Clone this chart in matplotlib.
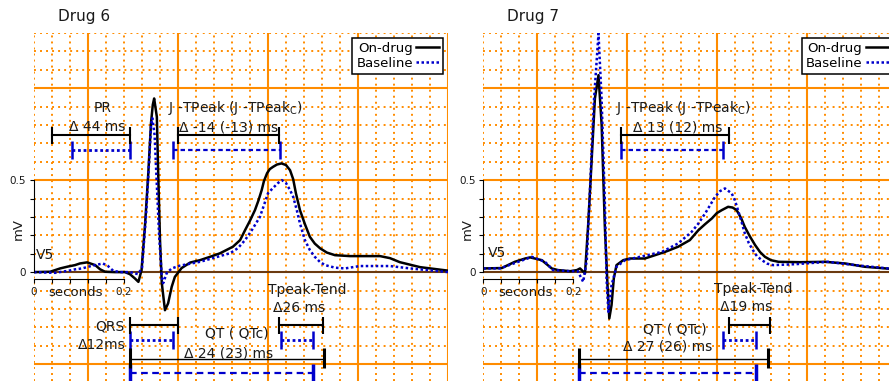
import matplotlib.pyplot as plt
import numpy as np

plt.rcParams['font.family'] = ['DejaVu Sans']

ORANGE = '#ff8c00'
BROWN = '#6b3a10'
BLUE = '#0000cc'
INK = '#1a1a1a'

# averaged V5 beats, time in s, amplitude in mV
t6_drug = [0, .036, .058, .075, .091, .102, .118, .136, .147, .158, .18, .202, .213, .224, .232, .239,
           .247, .254, .26, .264, .267, .273, .276, .28, .284, .291, .298, .306, .313, .328, .347, .369,
           .391, .413, .442, .458, .469, .48, .491, .499, .506, .511, .518, .524, .531, .54, .55, .56,
           .569, .576, .582, .591, .602, .613, .624, .636, .651, .669, .702, .735, .769, .791, .813,
           .858, .92]
v6_drug = [0, .002, .02, .03, .038, .047, .053, .038, .015, .002, 0, 0, -.011, -.034, -.053, .011,
           .266, .538, .81, .91, .944, .844, .538, .174, -.06, -.207, -.17, -.08, -.026, .022, .052, .065,
           .083, .102, .138, .174, .228, .28, .337, .391, .446, .495, .538, .56, .572, .585, .591, .582,
           .554, .505, .429, .337, .261, .192, .155, .129, .106, .092, .087, .087, .087, .076, .054,
           .027, .008]
t6_base = [0, .047, .062, .076, .091, .107, .12, .136, .153, .164, .176, .191, .213, .231, .24, .249,
           .256, .26, .263, .268, .272, .278, .284, .287, .295, .306, .324, .369, .436, .453, .469, .484,
           .502, .511, .52, .531, .542, .551, .56, .569, .576, .584, .591, .602, .613, .624, .636, .647,
           .669, .691, .724, .791, .836, .92]
v6_base = [0, -.004, .002, .007, .015, .02, .029, .038, .047, .034, .007, 0, 0, -.011, .022, .31,
           .609, .799, .837, .745, .527, .201, -.026, -.06, -.005, .02, .035, .056, .103, .13, .174, .228,
           .3, .364, .429, .457, .484, .5, .484, .446, .409, .337, .265, .174, .12, .083, .054, .038,
           .024, .02, .033, .033, .02, 0]

t7_drug = [0, .041, .07, .093, .104, .13, .152, .166, .193, .208, .215, .226, .233, .241, .248, .256,
           .263, .27, .276, .28, .285, .29, .296, .311, .326, .359, .404, .433, .459, .478, .493, .508,
           .519, .53, .544, .554, .563, .573, .581, .592, .604, .615, .626, .639, .656, .704, .759, .804,
           .848, .92]
v7_drug = [.02, .022, .056, .074, .08, .065, .02, .011, .005, .011, .02, -.007, .255, .62, .944, 1.071,
           .8, .255, -.071, -.252, -.179, -.034, .038, .065, .074, .074, .11, .138, .174, .228, .261, .292,
           .321, .337, .355, .351, .337, .293, .246, .196, .147, .109, .083, .065, .056, .054, .056, .047,
           .029, .015]
t7_base = [0, .037, .07, .108, .137, .155, .193, .21, .222, .23, .237, .246, .256, .263, .27, .274,
           .278, .285, .296, .315, .397, .433, .463, .477, .493, .504, .515, .526, .537, .552, .559, .566,
           .574, .581, .59, .599, .608, .619, .631, .644, .693, .766, .826, .92]
v7_base = [.02, .02, .049, .083, .056, .011, .005, .005, -.053, .065, .446, .935, 1.297, .935, .39, -.043,
           -.216, -.071, .029, .065, .11, .156, .219, .261, .319, .364, .409, .44, .455, .428, .391, .337,
           .272, .212, .158, .12, .087, .065, .046, .038, .043, .056, .038, .015]

# interval markers (s); on-drug length = baseline length + change (ms)
names6 = ['PR', 'QRS', 'J-TPeak', 'QT', 'Tpeak-Tend']
base_start6 = [0.084, 0.213, 0.309, 0.213, 0.549]
base_end6 = [0.213, 0.309, 0.547, 0.620, 0.620]
drug_start6 = [0.040, 0.213, 0.321, 0.213, 0.545]
delta6 = [44, 12, -14, 24, 26]
delta_text6 = ['Δ 44 ms', 'Δ12ms', 'Δ -14 (-13) ms', 'Δ 24 (23) ms', 'Δ26 ms']

names7 = ['J-TPeak', 'QT', 'Tpeak-Tend']
base_start7 = [0.306, 0.213, 0.533]
base_end7 = [0.533, 0.606, 0.605]
drug_start7 = [0.306, 0.213, 0.546]
delta7 = [13, 27, 19]
delta_text7 = ['Δ 13 (12) ms', 'Δ 27 (26) ms', 'Δ19 ms']

titles = {'PR': 'PR', 'QRS': 'QRS', 'J-TPeak': r'J -TPeak (J -TPeak$_\mathregular{C}$)',
          'QT': 'QT ( QTc)', 'Tpeak-Tend': 'Tpeak-Tend'}
# bracket heights (mV) for on-drug / baseline rows
rows = {'PR': (0.745, 0.663), 'J-TPeak': (0.745, 0.663), 'QRS': (-0.288, -0.37),
        'Tpeak-Tend': (-0.288, -0.37), 'QT': (-0.47, -0.547)}
base_ls = {'PR': (0, (1, 1)), 'QRS': (0, (1, 1)), 'Tpeak-Tend': (0, (1, 1)),
           'J-TPeak': (0, (2, 1.4)), 'QT': (0, (3, 2))}

DOTS = (0, (1, 2.1))


def ecg_grid(ax):
    for t in np.arange(0, 0.925, 0.04):
        k = (t - 0.12) / 0.2
        if abs(k - round(k)) < 1e-6:
            ax.axvline(t, color=ORANGE, lw=1.5, zorder=0.5)
        else:
            ax.axvline(t, color=ORANGE, lw=1.4, ls=DOTS, zorder=0.5)
    for v in np.arange(-6, 14) / 10:
        if v == 0:
            continue
        if abs(v * 2 - round(v * 2)) < 1e-6:
            ax.axhline(v, color=ORANGE, lw=1.5, zorder=0.5)
        else:
            ax.axhline(v, color=ORANGE, lw=1.4, ls=DOTS, zorder=0.5)
    ax.axhline(0, color=BROWN, lw=1.5, zorder=1)


def bracket(ax, name, t0, t1, drug):
    y = rows[name][0] if drug else rows[name][1]
    if drug:
        if name == 'QT':
            ax.plot([t0, t1], [y, y], color='black', lw=1.0, zorder=5)
            ax.vlines([t0, t1], y - 0.05, y + 0.06, color='black', lw=2.2, zorder=5)
        else:
            ax.plot([t0, t1], [y, y], color='black', lw=1.5, zorder=5)
            ax.vlines([t0, t1], y - 0.046, y + 0.046, color='black', lw=1.5, zorder=5)
    else:
        ax.plot([t0, t1], [y, y], color=BLUE, lw=2.0 if base_ls[name][1] == (1, 1) else 1.6,
                ls=base_ls[name], zorder=5)
        if name == 'QT':
            ax.vlines([t0, t1], y - 0.2, y + 0.047, color=BLUE, lw=2.5, zorder=5)
        else:
            ax.vlines([t0, t1], y - 0.049, y + 0.049, color=BLUE, lw=1.8, zorder=5)


def panel(ax, title, td, vd, tb, vb, v5_xy, names, b0, b1, d0, dl, dtext, text_pos):
    ecg_grid(ax)
    ax.plot(td, vd, color='black', lw=1.8, zorder=3, label='On-drug')
    ax.plot(tb, vb, color=BLUE, lw=1.8, ls=(0, (1, 1)), zorder=4, label='Baseline')
    ax.set_xlim(0, 0.92)
    ax.set_ylim(-0.592, 1.3)

    for i, name in enumerate(names):
        bracket(ax, name, b0[i], b1[i], False)
        drug_end = d0[i] + (b1[i] - b0[i]) + dl[i] / 1000
        bracket(ax, name, d0[i], drug_end, True)
        (nx, ny), (dx, dy), ha = text_pos[name]
        ax.text(nx, ny, titles[name], fontsize=10, color=INK, ha=ha, va='center', zorder=6)
        ax.text(dx, dy, dtext[i], fontsize=10, color=INK, ha=ha, va='center', zorder=6)

    # scale bars instead of axes
    for s in ['top', 'right']:
        ax.spines[s].set_visible(False)
    ax.spines['left'].set_bounds(0, 0.5)
    ax.spines['bottom'].set_position(('data', -0.038))
    ax.spines['bottom'].set_bounds(0, 0.2)
    for s in ['left', 'bottom']:
        ax.spines[s].set_linewidth(0.8)
        ax.spines[s].set_zorder(6)
    ax.set_xticks([0, 0.2])
    ax.set_xticklabels(['0', '0.2'])
    ax.set_xticks([0.04, 0.08, 0.12, 0.16], minor=True)
    ax.set_yticks([0, 0.5])
    ax.set_yticklabels(['0', '0.5'])
    ax.set_yticks([0.1, 0.2, 0.3, 0.4], minor=True)
    ax.tick_params(which='both', direction='out', length=3, width=0.8, labelsize=7.5, pad=2.5,
                   colors='black', labelcolor=INK)
    ax.text(0.093, -0.112, 'seconds', fontsize=9.5, color=INK, ha='center', va='center')
    ax.text(-0.036, 0.234, 'mV', fontsize=9.5, color=INK, ha='center', va='center',
            rotation=90, clip_on=False)
    ax.text(v5_xy[0], v5_xy[1], 'V5', fontsize=10, color=INK, ha='left', va='center')
    ax.text(0.058, 1 + 16 / 348, title, fontsize=11, color=INK, ha='left', va='center',
            transform=ax.transAxes, clip_on=False)

    leg = ax.legend(loc='upper right', fontsize=9.5, markerfirst=False, handlelength=1.75,
                    handletextpad=0.25, borderpad=0.3, labelspacing=0.15, borderaxespad=0.35,
                    fancybox=False, framealpha=1)
    leg.get_frame().set_edgecolor('black')
    leg.get_frame().set_linewidth(1.1)
    leg.set_zorder(7)


fig = plt.figure(figsize=(8.89, 3.81), dpi=100)
ax6 = fig.add_axes([34 / 889, 0, 414 / 889, 348 / 381])
ax7 = fig.add_axes([483.3 / 889, 0, 414 / 889, 348 / 381])

pos6 = {'PR': ((0.153, 0.891), (0.14, 0.788), 'center'),
        'J-TPeak': ((0.447, 0.891), (0.433, 0.788), 'center'),
        'QRS': ((0.202, -0.297), (0.204, -0.397), 'right'),
        'QT': ((0.451, -0.332), (0.433, -0.44), 'center'),
        'Tpeak-Tend': ((0.607, -0.098), (0.589, -0.196), 'center')}
pos7 = {'J-TPeak': ((0.444, 0.891), (0.432, 0.788), 'center'),
        'QT': ((0.426, -0.311), (0.41, -0.406), 'center'),
        'Tpeak-Tend': ((0.6, -0.094), (0.585, -0.192), 'center')}

panel(ax6, 'Drug 6', t6_drug, v6_drug, t6_base, v6_base, (0.004, 0.092),
      names6, base_start6, base_end6, drug_start6, delta6, delta_text6, pos6)
panel(ax7, 'Drug 7', t7_drug, v7_drug, t7_base, v7_base, (0.011, 0.103),
      names7, base_start7, base_end7, drug_start7, delta7, delta_text7, pos7)

fig.savefig('out.png', dpi=100)
